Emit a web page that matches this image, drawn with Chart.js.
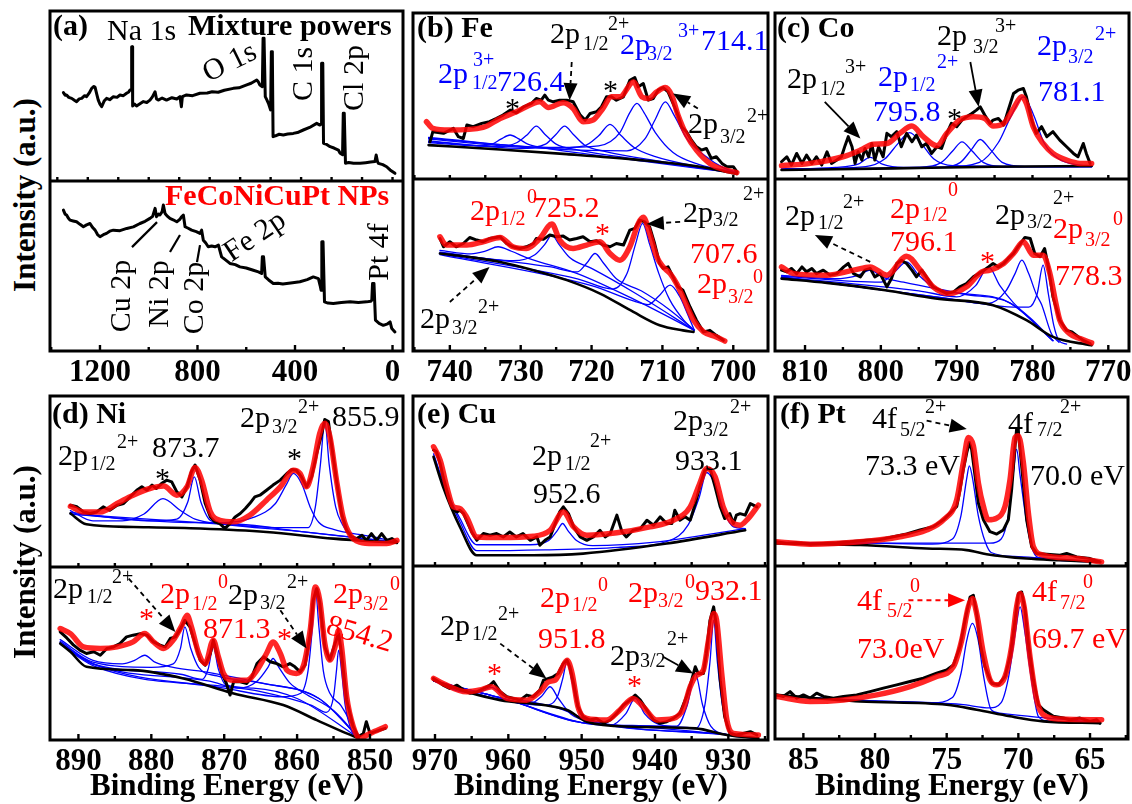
<!DOCTYPE html>
<html>
<head>
<meta charset="utf-8">
<script src="https://cdn.jsdelivr.net/npm/chart.js@4.4.1/dist/chart.umd.min.js"></script>
<style>
  body { margin: 0; width: 1132px; height: 804px; background: #fff; position: relative; overflow: hidden;
         font-family: "Liberation Serif", "Times New Roman", serif; }
  canvas { position: absolute; }
  .t { position: absolute; white-space: nowrap; line-height: 1; z-index: 5; }
</style>
</head>
<body>
<script>
const K = '#000', R = '#ff0000', B = '#0000ff';

/* ============================
   TICK LABELS
============================ */
const aTicks = [1200, 800, 400, 0];
const bTicks = [740, 730, 720, 710, 700];
const cTicks = [810, 800, 790, 780, 770];
const dTicks = [890, 880, 870, 860, 850];
const eTicks = [970, 960, 950, 940, 930];
const fTicks = [85, 80, 75, 70, 65];

/* ============================
   (a) SURVEY SPECTRA  [BE, intensity]
============================ */
const aTopRaw = [[1350,52],[1343,50.5],[1337,50.6],[1328,49.2],[1316,48.6],[1305,47.5],[1296,46.7],[1285,48.3],[1275,48.6],[1263,50.2],[1255,49.6],[1244,51.8],[1234,54.5],[1225,55.6],[1220,55.1],[1213,51],[1207,47.6],[1200,45.2],[1193,43.7],[1183,47],[1173,48.6],[1160,47.8],[1145,49.6],[1130,49.2],[1118,50.6],[1104,50.2],[1091,51.6],[1082,52.4],[1077,53.5],[1071,53.5],[1070,79],[1067,79],[1066,44.1],[1058,45.2],[1050,44.1],[1036,45.4],[1022,46.7],[1008,46.2],[995,47.6],[985,49.5],[974,52.5],[968,48.2],[961,47.6],[945,48.8],[927,47.6],[905,49],[885,48.2],[872,49.6],[866,43.7],[862,49.6],[845,50.6],[820,50.2],[790,51.6],[760,51.8],[740,52.5],[715,52.2],[690,53.4],[653,54.5],[630,54.8],[598,56.5],[580,57.5],[557,59.4],[550,58.2],[544,56.5],[534,55.5],[531,83.9],[527,83.9],[522,49.6],[515,47.6],[509,45.7],[500,41.8],[497,76.1],[493,76.1],[490,26.1],[480,26.6],[465,27.5],[448,27.1],[430,27.6],[407,28],[390,28.5],[366,30],[340,31.5],[311,33.9],[298,32.9],[292,33.5],[291,69.2],[286,69.2],[283,22.2],[270,21.5],[256,20.2],[240,19.4],[222,18.2],[215,16.3],[205,15.5],[202,39.8],[198,39.8],[193,10.4],[180,10.9],[160,10.4],[133,10.4],[110,10.8],[90,11.2],[72,11.4],[67,15.3],[62,11.6],[58,10.4],[40,9.6],[24,8.4],[10,6.5],[-10,4.5]];
const aBotRaw = [[1350,82.9],[1343,80.5],[1337,80],[1330,78.2],[1323,77],[1310,76.5],[1296,76],[1282,74.5],[1268,73.1],[1255,74.2],[1241,75],[1230,72.6],[1220,71.1],[1210,68.5],[1200,67.2],[1186,68.4],[1173,69.2],[1160,70.5],[1145,71.1],[1118,70.8],[1090,72.1],[1063,73],[1036,75],[1015,76.3],[995,78],[984,79.2],[974,83.9],[968,79],[960,80.5],[954,80],[945,82],[940,85.9],[933,80.9],[925,79.5],[913,78],[900,77.2],[885,76],[872,77.5],[865,79],[858,80],[851,73.1],[838,72.2],[824,71.1],[805,70.2],[790,69.2],[783,71.1],[776,65.2],[766,63.5],[756,61.3],[742,61.8],[728,61.3],[714,62.3],[707,58.5],[701,55.4],[685,53.6],[667,51.5],[645,50.8],[626,49.5],[600,48.8],[571,47.5],[550,46.5],[537,45.6],[534,55.4],[529,55.4],[522,43.6],[508,41.8],[489,39.7],[470,39.9],[450,39.4],[434,39.7],[410,40.2],[380,40.7],[350,42],[325,43.6],[304,42.6],[297,38.5],[293,35.8],[290,64.2],[285,64.2],[279,28.9],[265,28.2],[243,27.9],[210,28.5],[174,28.9],[140,28.6],[106,28.9],[90,29.2],[85,29.9],[82,39.7],[76,39.7],[70,18.1],[55,16.2],[38,15.1],[20,16],[10,17.1],[3,13.2],[-10,11.2]];

/* ============================
   (b) Fe 2p
============================ */
const bTopRaw = [[742.8,22.4],[742.4,28.5],[740.9,27.5],[739.5,30.5],[738.8,25.5],[738.1,24.4],[737.6,32.5],[736.7,31.5],[735.5,33.5],[734.4,34.5],[733.4,36.5],[732.5,38.5],[731.5,41.5],[730.6,39.9],[729.6,43.5],[728.5,45.5],[727.8,48.5],[727.1,47.5],[726.6,50.5],[726.1,47.5],[725.4,46.5],[724.5,47.5],[723.5,47.5],[722.6,46.5],[721.6,38.5],[720.9,35.5],[720.2,39.5],[719.3,40.5],[718.6,43.5],[717.9,49.5],[717.2,49.5],[716.5,47.5],[715.5,49.5],[714.6,59.5],[713.9,61.1],[713.4,55.5],[712.7,57.5],[712.0,47.5],[711.3,48.5],[710.6,53.5],[709.9,55.1],[709.2,52.5],[708.5,45.5],[707.8,38.5],[707.3,31.5],[706.6,28.5],[705.9,23.4],[705.2,19.4],[704.5,17.4],[703.8,18.4],[703.1,12.4],[702.4,13.4],[701.6,9.4],[700.9,7.4],[700,7.4],[699.5,4.4]];
const bTopFit = [[743.3,34.5],[742.4,30.5],[740,29.5],[735.3,31.1],[732.9,36.5],[730.6,40.5],[728.2,45.5],[727.3,46.5],[726.1,43.1],[724,45.9],[722.6,42.5],[721.2,34.5],[719.8,35.5],[718.4,42.5],[717.2,49.5],[716,49.5],[714.1,58.5],[712.9,49.5],[712,48.5],[710.8,52.5],[709.6,55.1],[708.7,50.5],[707.8,38.5],[706.6,26.5],[705.2,17.4],[703.3,9.4],[701.4,5.8],[699.5,3.8]];
const bTopBg = [[743,20.4],[732.9,17.8],[723.5,15],[714.1,11.8],[704.7,7.4],[699.5,3]];
const bTopC1 = [[743,22],[736,20],[734,21],[732.8,24],[731.5,26.5],[730.2,24],[729,21],[727,19],[715,12],[699.5,3.5]];
const bTopC2 = [[743,22.5],[733,19.5],[730.5,22],[729,27],[727.8,31.9],[726.6,27],[725,21],[722,17.5],[712,11],[699.5,3.5]];
const bTopC3 = [[743,23],[730,18.5],[726.5,21],[725,27],[723.8,31.9],[722.6,27],[721,20.5],[718,16.5],[710,10.5],[699.5,3.5]];
const bTopC4 = [[743,24],[726,18.5],[721,20],[719,26],[717.4,32.9],[715.8,26],[714,19],[711,13.5],[705,7.5],[699.5,3.5]];
const bTopC5 = [[743,24.5],[725,19],[719,20],[716,28],[714.6,40],[713.6,45.5],[712.6,40],[711,28],[708.5,16],[705,9],[699.5,4]];
const bTopC6 = [[743,25],[725,18],[715,17],[712.5,24],[711,36],[709.6,46.5],[708.3,38],[706.5,24],[704,14],[701.5,7],[699.5,4]];

const bBotRaw = [[741.4,65.4],[740.9,60.6],[740,63.5],[739.1,60.6],[738.1,62.5],[737.2,66],[736.2,64.5],[735.3,63.5],[734.4,65.4],[732.9,66.4],[732,62.5],[731.1,60.6],[730.1,59.6],[729.2,60.6],[728.2,62.5],[727.8,65.4],[726.8,64.9],[725.9,67.4],[724.9,66.4],[724,66.8],[723.1,64.5],[722.1,65.4],[721.2,66.4],[720.2,63.5],[719.3,64.1],[718.4,61.6],[717.4,60.6],[716.5,62.5],[715.5,61.6],[714.6,70.3],[713.9,71.3],[713.2,76.1],[712.5,75.1],[711.8,72.2],[711.1,62.5],[710.4,50.9],[709.9,48],[709.2,48.9],[708.5,43.1],[707.8,37.3],[707.1,35.3],[706.1,25.6],[705.2,17.9],[704.2,11.1],[703.3,12],[702.4,9.1],[701.4,6.2]];
const bBotFit = [[741.4,66.4],[740.5,61.6],[737.6,61.6],[735.3,63.5],[732.9,66],[731.1,60.6],[729.2,59.6],[727.3,65.4],[725.6,73.8],[724.5,64.5],[722.6,59.6],[720.7,61.6],[718.8,63.5],[717.4,56.7],[716,52.8],[714.6,60.6],[713.4,74.2],[712.7,77.7],[711.8,68.3],[710.8,54.8],[709.9,48.9],[708.9,45],[708,39.2],[707.1,31.5],[705.6,17.9],[704.2,11.1],[702.4,8.2],[701.2,5.8]];
const bBotBg = [[741.4,56.7],[737.6,54.8],[732.9,51.8],[728.2,47],[723.5,41.2],[718.8,33.4],[714.1,22.7],[710.4,15],[707.1,12],[705.6,11.1]];
const bBotC1 = [[741.4,58.5],[737,56.5],[735,58],[733.2,60.6],[731.3,58],[729,54],[722,45],[714,30],[705.5,12]];
const bBotC2 = [[741.4,57.5],[731,52.5],[728,56],[726.6,62],[725.6,67.4],[724.6,62],[723,54],[720,48],[714,34],[705.5,12]];
const bBotC3 = [[741.4,57],[726,49],[722,46],[720.7,51],[719.5,56.7],[718.3,51],[716.5,42],[713,35],[709,24],[705.5,12]];
const bBotC4 = [[741.4,56.5],[722,42],[717,36],[715,45],[713.8,62],[712.8,74.2],[711.8,62],[710.5,45],[709,30],[707,18],[705.5,12]];
const bBotC5 = [[741.4,56],[720,38],[714,29],[712,27],[710.5,32],[708.9,38.3],[707.6,32],[706.5,22],[705.5,12]];

/* ============================
   (c) Co 2p
============================ */
const cTopRaw = [[813.1,10.4],[812.4,13.4],[811.8,8.4],[811.1,15.4],[810.4,9.4],[809.8,14.4],[809.1,9.4],[808.5,13.4],[807.8,8.4],[807.1,16.4],[806.5,9.4],[805.8,11.4],[805.2,13.4],[804.7,20.4],[804.3,25.5],[803.8,19.4],[803.4,9.4],[803,16.4],[802.5,11.4],[802.1,18.4],[801.6,13.4],[801.2,21.4],[800.8,11.4],[800.3,19.4],[799.7,13.4],[799.2,27.5],[798.6,25.5],[797.9,28.5],[797.3,19.4],[796.6,27.5],[795.9,22.4],[795.3,26.5],[794.6,19.4],[794,21.4],[793.3,15.4],[792.6,19.4],[792,18.4],[791.3,27.5],[790.7,33.5],[790,31.5],[789.3,35.5],[788.7,37.5],[788,39.5],[787.4,41.5],[786.9,43.5],[786.3,38.5],[785.6,33.5],[785.2,35.5],[784.5,36.5],[783.8,32.5],[783.2,41.5],[782.5,51.5],[781.9,53.5],[781.2,54.5],[780.8,49.5],[780.1,35.5],[779.5,27.5],[778.8,31.5],[778.1,25.5],[777.3,28.5],[776.4,23.4],[775.5,19.4],[774.6,15.4],[774,13.4],[773.3,21.4],[772.9,15.4],[772.4,9.4]];
const cTopFit = [[813.1,8],[809.3,9.4],[805,13.4],[802.7,17.4],[801,21],[799.2,21.4],[797.5,27.5],[795.9,31.9],[794.4,25.5],[792.6,20],[791.3,27.5],[789.6,35.5],[787.8,37.5],[786.3,36.5],[785.2,31.9],[783.8,33.5],[782.5,42.5],[781.4,49.5],[780.8,45.5],[779.9,31.5],[778.6,21.4],[777.3,15.4],[775.5,11.4],[773.7,9.4],[772.2,9.4]];
const cTopBg = [[813.1,5.4],[798.4,6.4],[785.2,7.4],[772.2,7.8]];
const cTopC1 = [[813.1,6],[806,7],[803,9],[801.4,13],[799.8,9],[797,7],[772.2,7.5]];
const cTopC2 = [[813.1,6],[802,7.5],[799.5,12],[797.8,21],[796.2,27.9],[794.6,21],[793,12],[790.5,8],[772.2,7.5]];
const cTopC3 = [[813.1,6],[795,7],[792,10],[790.5,17],[789.3,22.4],[788,17],[786.5,10],[784,7.5],[772.2,7.5]];
const cTopC4 = [[813.1,6],[792,7],[789.5,10],[788,18],[786.9,23.8],[785.6,18],[784,10],[781,7.5],[772.2,7.5]];
const cTopC5 = [[813.1,6],[792,7],[787,10],[784.5,22],[782.8,38],[781.2,49.5],[779.8,38],[778.5,22],[776.5,12],[774,8.5],[772.2,7.5]];

const cBotRaw = [[813.1,47],[812.4,46],[811.8,48],[811.1,45],[810.4,48.9],[809.8,46],[809.1,48],[808.5,45],[807.6,47],[806.7,44.1],[805.8,45],[804.9,48.9],[804.3,50.9],[803.6,45],[802.7,43.1],[802.1,47],[801.4,48],[800.8,43.1],[800.1,45],[799.2,37.3],[798.6,42.1],[797.9,50.9],[797.3,52.8],[796.6,50.9],[795.9,47],[795.3,43.1],[794.6,47],[794,43.1],[793.1,37.3],[792.2,35.3],[791.3,33.4],[790.4,34.4],[789.6,37.3],[788.7,39.2],[787.8,43.1],[787.1,45],[786.4,47],[785.8,48.9],[785.2,50.9],[784.5,48.9],[783.8,50.9],[783.2,53.8],[782.5,56.7],[781.9,60.6],[781,66],[780.3,65.4],[779.7,56.7],[779,54.8],[778.4,59.6],[777.9,48.9],[777.3,31.5],[776.4,17.9],[775.5,12],[774.8,11.1],[774.2,9.1],[773.3,6.2],[772.4,4.3]];
const cBotFit = [[813.1,48.9],[811.5,45],[807.1,44.1],[803.6,47],[801.4,48.9],[799.2,44.1],[796.6,55.1],[794.8,47],[793.1,37.3],[790.9,33.4],[788.7,37.3],[786.7,46],[785.6,47],[783.8,50.9],[782.5,56.7],[781.2,63.5],[779.9,55.7],[778.6,55.7],[777.7,45],[777,29.5],[776.4,17.9],[775.1,10.1],[773.7,7.2],[772.2,4.7]];
const cBotBg = [[813.1,42.1],[807.1,39.6],[799.4,35.3],[792.8,30.5],[785.2,26.6],[780.8,17.9],[777.3,8.2],[772.2,3.3]];
const cBotC1 = [[813.1,44],[806,42],[803,44],[801.4,47],[799.8,43],[797,40],[790,34],[783,28],[777.3,6]];
const cBotC2 = [[813.1,43.5],[800,40],[798.2,46],[796.6,51.8],[795,44],[793,37],[789,33],[783,28],[777.3,6]];
const cBotC3 = [[813.1,43],[795,35],[790,31.5],[787.5,38],[785.8,48.9],[784.3,38],[782.5,28],[780,18],[777.3,6]];
const cBotC4 = [[813.1,43],[792,31],[786,27.5],[783.5,35],[782.3,45],[781.4,52.8],[780.5,45],[779.5,33],[778.8,27],[777.5,10],[776.5,5]];
const cBotC5 = [[813.1,43],[792,31],[784,26],[780.5,25.5],[779.4,33],[778.6,49.9],[777.9,33],[777.2,15],[776.5,6],[775.5,4]];

/* ============================
   (d) Ni 2p
============================ */
const dTopRaw = [[891.1,36.1],[890.2,35.2],[889.3,32.2],[888.4,31.3],[887.5,32.2],[886.6,35.2],[885.7,33.2],[884.7,36.1],[883.8,37.1],[882.9,41],[882,44.9],[881.3,46.9],[880.6,44.9],[879.9,47.9],[879.3,45.9],[878.6,48.8],[877.9,50.8],[877.2,49.8],[876.5,43.9],[875.8,41],[875.1,46.9],[874.5,55.7],[874,59.6],[873.3,50.8],[872.6,37.1],[871.9,29.3],[871.3,26.4],[870.6,25.4],[869.9,22.5],[869.2,25.4],[868.5,29.3],[867.8,31.3],[867.1,34.2],[866.5,37.1],[865.8,41],[865.1,42],[864.2,44.9],[863.3,47.9],[862.3,50.8],[861.4,54.7],[860.7,57],[860.1,56.6],[859.4,52.7],[858.7,46.9],[858,52.7],[857.3,66.4],[856.6,78.1],[856.2,86.3],[855.7,85],[855.3,72.3],[854.6,50.8],[853.9,31.3],[853.2,21.5],[852.5,17.6],[851.8,16.6],[851.1,18.6],[850.5,15.6],[849.8,19.5],[849.1,15.6],[848.4,19.5],[847.7,15.6],[847,16.6],[846.3,14.6]];
const dTopFit = [[891.1,35.5],[889.3,32.2],[887,32.2],[884.7,37.1],[882.5,42],[880.2,45.9],[878.3,47.3],[876.5,42],[875.1,46.9],[874,58.2],[873.1,50.8],[871.9,32.2],[870.6,27.3],[868.7,26.4],[866.5,30.3],[864.2,39.1],[862.3,46.9],[860.5,56.6],[859.6,54.7],[858.7,46.9],[857.8,58.6],[856.9,78.1],[856.2,84],[855.5,76.2],[854.6,50.8],[853.7,29.3],[852.7,18.6],[851.4,14.6],[849.5,13.7],[847.7,13.7],[846.3,15.6]];
const dTopBg = [[891.1,31.3],[888.9,25],[882.5,23.4],[873.3,22.5],[864.2,20.5],[855,16.6],[846.3,14.1]];
const dTopC1 = [[891.1,33],[888,27],[884,27],[881,31],[878.4,40],[876,33],[874,28],[870,25],[860,21],[846.3,14.5]];
const dTopC2 = [[891.1,32],[880,27],[876.5,28],[875,38],[874.1,52.7],[873.2,38],[871.8,27],[868,25],[860,21],[846.3,14.5]];
const dTopC3 = [[891.1,31],[875,26],[870,26],[866,29],[863,37],[861.5,48],[860.5,54.7],[859.3,48],[858.2,35],[857,26],[855,22],[850,18],[846.3,14.5]];
const dTopC4 = [[891.1,31],[870,25],[862,23],[858.5,23],[857.5,35],[856.8,60],[856.2,85],[855.6,60],[854.7,35],[853.8,25],[852.5,18],[850,15],[846.3,14.5]];

const dBotRaw = [[892.5,62.5],[891.6,59],[890.7,55],[889.8,51.9],[888.9,50],[887.9,51],[887,49],[886.1,52.9],[885.2,53.8],[884.3,55.8],[883.4,59.6],[882.5,60.6],[881.5,61.5],[880.6,60.6],[879.7,56.7],[878.8,54.8],[878.1,53.8],[877.4,58.7],[876.7,59.6],[876.1,63.5],[875.4,69.2],[874.7,65.4],[874,55.8],[873.3,46.2],[872.6,43.3],[871.9,50],[871.5,57.7],[871,50],[870.3,38.5],[869.7,32.7],[869.2,26],[868.7,33.7],[867.8,33.7],[866.9,32.7],[866.2,36.5],[865.5,44.2],[864.6,48.1],[863.7,45.2],[862.8,44.2],[861.9,42.3],[861,44.2],[860.3,42.3],[859.6,39.4],[858.9,43.3],[858.2,61.5],[857.8,80.8],[857.3,87.5],[856.9,79.8],[856.2,53.8],[855.5,46.2],[854.8,55.8],[854.3,61.5],[853.9,50],[853.2,23.1],[852.3,7.7],[851.6,1.9],[850.9,3.8],[850.5,10.6],[850,3.8],[849.3,4.8],[848.6,5.8],[847.9,6.7]];
const dBotFit = [[892.5,64.4],[891.1,61.5],[889.3,53.8],[887,52.9],[884.7,53.8],[882.5,56.7],[880.9,61.5],[879.7,56.7],[878.3,52.9],[877,57.7],[875.8,66.3],[875.1,72.1],[874.5,65.4],[873.5,50],[872.6,44.2],[871.5,57.7],[870.8,48.1],[870.1,38.5],[868.7,34.6],[866.9,34.6],[865.5,40.4],[864.2,50],[863.3,56.7],[862.3,50],[861.4,40.4],[860.1,38.5],[859.1,43.3],[858.2,63.5],[857.5,88.5],[856.9,80.8],[856.2,55.8],[855.5,46.2],[854.8,53.8],[854.3,63.5],[853.9,53.8],[853.2,25],[852.3,7.7],[851.4,1],[850,3.8],[847.9,7.7]];
const dBotBg = [[892.5,55.8],[891.1,51],[888.9,42.3],[882.5,40.4],[875.6,35.6],[868.7,26.9],[861.9,20.2],[857.3,11.5],[853.2,3.8],[851.6,1]];
const dBotC1 = [[892.5,58],[888,46],[884,44],[882.3,46],[880.9,49],[879.5,45],[877,42],[872,39],[865,33],[857,24],[851.5,1]];
const dBotC2 = [[892.5,57],[888,45],[880,42],[877,44],[876,53],[875.4,65.4],[874.6,53],[873.5,42],[871,37],[865,33],[857,24],[851.5,1]];
const dBotC3 = [[892.5,56],[888,44],[876,38],[873,35],[872.2,41],[871.5,53.8],[870.8,41],[869.8,32],[866,30],[860,24],[851.5,1]];
const dBotC4 = [[892.5,56],[888,44],[872,34],[868,30],[865.5,34],[864,42],[863.3,47.1],[862.5,42],[861,33],[859,27],[855,17],[851.5,1]];
const dBotC5 = [[892.5,56],[888,44],[870,30],[862,25],[859.5,27],[858.5,40],[857.9,65],[857.5,87.5],[857,65],[856.4,40],[855.5,27],[854,20],[851.5,1]];
const dBotC6 = [[892.5,55.5],[888,43],[865,28],[858,20],[856,16],[855,25],[854.6,40],[854.3,51.9],[853.9,40],[853.4,20],[852.5,5],[851.5,0]];

/* ============================
   (e) Cu 2p
============================ */
const eTopRaw = [[970.2,68.2],[969.8,67.2],[969.3,60.3],[968.9,52.5],[968.4,44.6],[968,38.7],[967.5,32.8],[967,31.8],[966.6,32.8],[966.1,30.8],[965.7,26.9],[965,20],[964.3,15.1],[963.4,19.1],[962.5,18.1],[961.6,19.1],[960.7,17.1],[959.8,20],[958.9,17.1],[958,19.1],[957,15.1],[956.1,17.1],[955.7,12.2],[955,15.1],[954.3,17.1],[953.6,25],[953,31.8],[952.5,34.8],[951.8,30.8],[951.1,23],[950.2,17.1],[949.3,15.1],[948.4,17.1],[947.5,21],[946.8,17.1],[946.1,19.1],[945.2,29.9],[944.5,20],[943.9,17.1],[943,21],[942,22],[941.1,26.9],[940.2,24],[939.3,28.9],[938.4,25],[937.7,25],[937.3,32.8],[936.6,26.9],[935.9,28.9],[935.2,26.9],[934.5,36.7],[933.9,46.6],[933.2,56.4],[932.5,57.4],[931.8,46.6],[931.1,34.8],[930.5,27.9],[929.8,30.8],[929.3,25],[928.9,29.9],[928.4,30.8],[927.7,29.9],[927,36.7],[926.1,34.8]];
const eTopFit = [[970.2,70.1],[969.3,62.3],[968.4,46.6],[967.5,34.8],[966.6,33.8],[965.7,28.9],[964.3,17.1],[961.1,16.7],[956.6,17.5],[954.3,21],[952.5,31.8],[951.1,23],[949.3,18.1],[945.2,19.5],[940.7,23],[937.5,26.9],[935.2,34.8],[933.9,48.5],[932.95,57.4],[931.8,52.5],[930.7,34.8],[929.3,25],[928.4,24],[927.3,27.9],[925.9,35.8]];
const eTopBg = [[970.2,64.2],[968.9,46.6],[966.6,23],[964.3,6.3],[956.6,6.3],[949.8,7.3],[938.4,13.2],[927.7,21]];
const eTopC1 = [[970.2,66],[968.5,45],[966.6,28],[964.3,12.5],[957,12.5],[954.5,15],[953.3,21],[952.6,25],[951.9,21],[950.7,15],[948.5,12],[940,14],[927.7,22]];
const eTopC2 = [[970.2,64],[968.5,44],[966.6,26],[964.3,9],[955,9.5],[945,11],[938,15],[935.5,24],[934,40],[932.95,55],[931.8,48],[930.6,32],[929.3,23],[927.7,22]];

const eBotRaw = [[970.2,35.4],[969.5,33.5],[968.9,31.5],[968,29.6],[967,31.5],[966.1,28.7],[965.2,26.8],[964.3,27.7],[963.4,29.6],[962.5,31.5],[962,33.5],[961.1,27.7],[960.2,24.9],[959.3,23.9],[958.4,22.9],[957.5,25.8],[956.6,24.9],[955.7,28.7],[955.2,34.4],[954.5,35.4],[953.9,36.3],[953.2,38.2],[952.5,44],[952,45.9],[951.6,42.1],[951.1,32.5],[950.5,19.1],[949.8,13.4],[948.9,11.5],[948,12.4],[947,9.6],[946.1,11.5],[945.2,15.3],[944.3,20.1],[943.4,22.9],[942.7,25.8],[942,22.9],[941.1,17.2],[940.2,11.5],[939.3,9.6],[938.4,10.5],[937.5,12.4],[936.6,15.3],[935.7,24.9],[935,34.4],[934.5,42.1],[934.1,38.2],[933.4,38.2],[933,49.7],[932.5,68.8],[932,76.5],[931.6,65],[931.1,34.4],[930.5,13.4],[929.8,3.8],[928.9,2.9],[928,3.8],[927,4.8],[926.1,2.9]];
const eBotFit = [[970.2,35.4],[968.9,32.5],[965.7,27.7],[963.9,28.7],[962.3,30.6],[960.2,23.9],[957.5,22.9],[955.7,27.7],[954.5,33.5],[953.6,34.4],[952.7,41.1],[952,45.9],[951.3,38.2],[950.5,19.1],[949.3,12.4],[946.6,11.5],[944.8,17.2],[943,23.9],[941.6,19.1],[939.8,11.5],[937.5,12.4],[936.1,18.2],[935.2,30.6],[934.3,37.3],[933.4,40.2],[932.7,57.4],[932,72.7],[931.6,68.8],[930.9,38.2],[930.2,11.5],[929.3,3.8],[925.9,2.9]];
const eBotBg = [[970.2,34.4],[965.7,27.7],[961.1,22.9],[955.2,20.1],[952,17.2],[949.3,10.5],[943,7.6],[934.5,6.7],[930.2,2.9],[925.9,1]];
const eBotC1 = [[970.2,34],[966,27.5],[964,27.5],[962.3,30.2],[960.5,25],[957,22],[953,18],[948,10],[930,3],[925.9,1]];
const eBotC2 = [[970.2,34],[962,24],[957,21],[955.5,25],[954.3,30.6],[953.2,24],[951.5,15],[948,10],[930,3],[925.9,1]];
const eBotC3 = [[970.2,34],[962,24],[955,20],[953.3,25],[952.6,35],[952,44.9],[951.4,35],[950.5,18],[949,12],[940,7],[930,3],[925.9,1]];
const eBotC4 = [[970.2,34],[960,23],[950,10],[946,8.5],[944,15],[942.7,23.9],[941.4,15],[939.5,9],[935,7],[930,3],[925.9,1]];
const eBotC5 = [[970.2,34],[960,23],[950,10],[940,8],[937,8],[935.6,20],[934.5,38.2],[933.5,20],[932.4,8],[930,3],[925.9,1]];
const eBotC6 = [[970.2,34],[960,23],[950,10],[940,8],[934.5,6.5],[933.2,20],[932.5,45],[932,68.8],[931.5,45],[930.8,20],[929.8,5],[925.9,1]];

/* ============================
   (f) Pt 4f
============================ */
const fTopRaw = [[86.86,14.3],[86.16,13.3],[85.47,13.7],[84.53,12.9],[83.6,13.3],[82.67,13.7],[81.74,14.3],[80.58,15.3],[79.65,15.7],[78.72,17.3],[77.79,18.9],[76.86,21.3],[75.93,23.3],[75.23,27.3],[74.77,31.3],[74.3,35.3],[74.07,45.2],[73.84,57.2],[73.6,67.1],[73.42,73.1],[73.26,69.1],[73.02,53.2],[72.79,37.3],[72.44,27.3],[71.98,20.3],[71.51,18.9],[71.05,21.3],[70.7,27.3],[70.47,45.2],[70.23,71.1],[70.12,81.1],[70,79.1],[69.77,59.2],[69.42,27.3],[69.07,11.4],[68.72,7.4],[68.02,7],[67.09,6.4],[66.63,7.4],[65.93,5.4],[65,4.4],[64.3,2.4]];
const fTopFit = [[86.86,14.3],[84.53,12.9],[81.05,14.3],[78.26,17.3],[76.4,21.3],[75.23,27.3],[74.3,39.2],[73.84,61.2],[73.49,76.1],[73.14,71.1],[72.79,49.2],[72.44,35.3],[72.09,27.3],[71.51,28.3],[70.93,35.3],[70.58,51.2],[70.23,76.1],[70,77.1],[69.65,61.2],[69.3,31.3],[68.95,11.4],[68.26,6.4],[65.93,4.4],[64.19,2.4]];
const fTopBg = [[86.86,13.3],[81.05,12.4],[76.4,10.4],[73.6,9.4],[72.21,7],[69.42,4.4],[67.09,3.4],[64.3,2.4]];
const fTopC1 = [[86.86,14],[80,13.5],[76,13],[74.6,16],[74,30],[73.6,52],[73.42,59.2],[73.2,52],[72.8,30],[72.3,14],[71.9,8],[70,5.5],[64.3,2.5]];
const fTopC2 = [[86.86,14],[80,13.5],[74,13.5],[72,13.5],[71.2,16],[70.7,30],[70.35,55],[70.12,69.1],[69.9,55],[69.5,30],[69.1,12],[68.6,5],[64.3,2.5]];

const fBotRaw = [[86.86,25.5],[86.4,24.6],[85.93,27.4],[85.47,23.6],[85,25.5],[84.53,23.6],[84.07,26.5],[83.6,24.6],[82.91,23.6],[82.21,24.6],[81.28,25.5],[80.35,27.4],[79.42,29.4],[78.49,31.3],[77.56,33.2],[76.63,35.1],[75.7,38],[75,39.9],[74.53,42.8],[74.07,53.4],[73.72,68.7],[73.37,82.1],[73.14,83.1],[72.91,72.6],[72.67,55.3],[72.33,41.8],[71.86,32.2],[71.4,31.3],[70.93,36.1],[70.58,47.6],[70.23,68.7],[70,84.1],[69.77,85],[69.53,74.5],[69.3,55.3],[68.95,34.2],[68.6,19.8],[68.26,16.9],[67.56,13.1],[66.86,12.1],[66.4,11.1],[65.7,12.1],[65,10.2],[64.53,11.1],[64.3,9.2]];
const fBotFit = [[86.86,24.6],[84.53,21.7],[82.21,22.6],[79.88,25.5],[77.56,30.3],[75.7,36.1],[74.53,41.8],[73.95,57.2],[73.49,76.4],[73.21,81.2],[72.91,72.6],[72.44,49.5],[71.98,34.2],[71.51,31.3],[70.93,36.1],[70.47,53.4],[70.12,76.4],[69.88,84.1],[69.6,76.4],[69.19,47.6],[68.72,22.6],[68.26,14],[67.09,11.5],[64.19,11.1]];
const fBotBg = [[86.86,25.5],[81.05,21.7],[75,19.8],[72.91,16.9],[70.58,13.1],[68.26,10.2],[64.3,9.2]];
const fBotC1 = [[86.86,25],[80,22],[76,21],[74.6,24],[74,38],[73.6,57],[73.21,66.8],[72.8,57],[72.4,35],[71.9,17],[71.3,15],[64.3,9.5]];
const fBotC2 = [[86.86,25],[80,22],[74,20],[72,18],[71.2,21],[70.7,35],[70.2,62],[69.88,76.4],[69.55,62],[69.1,35],[68.6,13],[68,10.5],[64.3,9.5]];

/* ============================
   PANEL LAYOUT
============================ */
const panels = [
  { L: 50, R: 403, T: 11, M: 181, B: 351, xmin: -43, xmax: 1405, ticks: aTicks, step: 200, topStep: 125,
    top: { raw: aTopRaw }, bot: { raw: aBotRaw },
    arrows: { bot: [
      { from: [966, 75.8], to: [1068.7, 61.1] },
      { from: [871.8, 68.2], to: [912.8, 58.2] },
      { from: [789.7, 62.3], to: [802, 52.3] } ] } },
  { L: 413, R: 768, T: 13, M: 179, B: 351, xmin: 695.1, xmax: 745.2, ticks: bTicks, step: 5,
    top: { raw: bTopRaw, fit: bTopFit, bg: bTopBg, comps: [bTopC1, bTopC2, bTopC3, bTopC4, bTopC5, bTopC6] },
    bot: { raw: bBotRaw, fit: bBotFit, bg: bBotBg, comps: [bBotC1, bBotC2, bBotC3, bBotC4, bBotC5] },
    arrows: {
      top: [ { from: [722.8, 70.5], to: [723.1, 47.5], dash: true, head: true },
             { from: [705, 42.5], to: [708.5, 51.5], dash: true, head: true } ],
      bot: [ { from: [707.5, 75.1], to: [712.2, 73.8], dash: true, head: true },
             { from: [740, 28.5], to: [734.4, 48.9], dash: true, head: true } ] } },
  { L: 775, R: 1129, T: 13, M: 179, B: 351, xmin: 767.27, xmax: 813.96, ticks: cTicks, step: 5,
    top: { raw: cTopRaw, fit: cTopFit, bg: cTopBg, comps: [cTopC1, cTopC2, cTopC3, cTopC4, cTopC5] },
    bot: { raw: cBotRaw, fit: cBotFit, bg: cBotBg, comps: [cBotC1, cBotC2, cBotC3, cBotC4, cBotC5] },
    arrows: {
      top: [ { from: [807.4, 46.5], to: [802.7, 24.4], head: true },
             { from: [788.2, 70.5], to: [787.1, 43.5], head: true } ],
      bot: [ { from: [801.4, 51.8], to: [808.7, 67.4], dash: true, head: true } ] } },
  { L: 50, R: 403, T: 396, M: 567, B: 740, xmin: 845.47, xmax: 893.9, ticks: dTicks, step: 5,
    top: { raw: dTopRaw, fit: dTopFit, bg: dTopBg, comps: [dTopC1, dTopC2, dTopC3, dTopC4] },
    bot: { raw: dBotRaw, fit: dBotFit, bg: dBotBg, comps: [dBotC1, dBotC2, dBotC3, dBotC4, dBotC5, dBotC6] },
    arrows: { bot: [ { from: [883.1, 93.3], to: [876.7, 62.5], dash: true, head: true },
                     { from: [862.3, 75], to: [858.7, 52.9], dash: true, head: true } ] } },
  { L: 413, R: 768, T: 396, M: 566, B: 740, xmin: 924.59, xmax: 973, ticks: eTicks, step: 5,
    top: { raw: eTopRaw, fit: eTopFit, bg: eTopBg, comps: [eTopC1, eTopC2] },
    bot: { raw: eBotRaw, fit: eBotFit, bg: eBotBg, comps: [eBotC1, eBotC2, eBotC3, eBotC4, eBotC5, eBotC6] },
    arrows: { bot: [ { from: [961.1, 55.4], to: [954.8, 35.4], dash: true, head: true },
                     { from: [938.9, 47.8], to: [934.8, 38.2], head: true } ] } },
  { L: 775, R: 1128, T: 397, M: 566, B: 739, xmin: 62.35, xmax: 86.98, ticks: fTicks, step: 2.5,
    top: { raw: fTopRaw, fit: fTopFit, bg: fTopBg, comps: [fTopC1, fTopC2] },
    bot: { raw: fBotRaw, fit: fBotFit, bg: fBotBg, comps: [fBotC1, fBotC2] },
    arrows: {
      top: [ { from: [76.4, 86], to: [73.6, 81], dash: true, head: true } ],
      bot: [ { from: [77.67, 80.2], to: [73.72, 80.2], dash: true, head: true, color: R } ] } }
];

function line(pairs, color, width, smooth) {
  return {
    data: pairs.map(p => ({ x: p[0], y: p[1] })),
    borderColor: color, borderWidth: width, pointRadius: 0, fill: false,
    tension: smooth ? 0.4 : 0, cubicInterpolationMode: smooth ? 'monotone' : 'default',
    borderJoinStyle: 'round', borderCapStyle: 'round'
  };
}

function drawArrow(ctx, xs, ys, a) {
  const x0 = xs.getPixelForValue(a.from[0]), y0 = ys.getPixelForValue(a.from[1]);
  const x1 = xs.getPixelForValue(a.to[0]), y1 = ys.getPixelForValue(a.to[1]);
  const ang = Math.atan2(y1 - y0, x1 - x0);
  const hl = a.head ? 17 : 0, hw = 7;
  const xe = x1 - hl * Math.cos(ang), ye = y1 - hl * Math.sin(ang);
  ctx.strokeStyle = ctx.fillStyle = a.color || K;
  ctx.lineWidth = a.head ? 1.8 : 2.2;
  ctx.setLineDash(a.dash ? [5, 4] : []);
  ctx.beginPath(); ctx.moveTo(x0, y0); ctx.lineTo(xe, ye); ctx.stroke();
  ctx.setLineDash([]);
  if (a.head) {
    ctx.beginPath();
    ctx.moveTo(x1, y1);
    ctx.lineTo(xe + hw * Math.sin(ang), ye - hw * Math.cos(ang));
    ctx.lineTo(xe - hw * Math.sin(ang), ye + hw * Math.cos(ang));
    ctx.closePath(); ctx.fill();
  }
}

function deco(p, part) {
  return {
    id: 'deco',
    afterDraw(chart) {
      const { ctx, chartArea: ca, scales: { x, y } } = chart;
      ctx.save();
      // inward ticks on the bottom edge
      ctx.strokeStyle = K; ctx.lineWidth = 2.4;
      const step = part === 'top' && p.topStep ? p.topStep : p.step;
      const lo = Math.min(p.xmin, p.xmax), hi = Math.max(p.xmin, p.xmax);
      for (let v = Math.ceil(lo / step) * step; v <= hi; v += step) {
        const px = x.getPixelForValue(v);
        const major = part === 'bot' && p.ticks.some(t => Math.abs(t - v) < 1e-6);
        ctx.beginPath(); ctx.moveTo(px, ca.bottom); ctx.lineTo(px, ca.bottom - (major ? 6 : 4)); ctx.stroke();
      }
      (p.arrows[part] || []).forEach(a => drawArrow(ctx, x, y, a));
      // frame
      ctx.lineWidth = 3; ctx.strokeStyle = K;
      ctx.strokeRect(ca.left, ca.top, ca.right - ca.left, ca.bottom - ca.top);
      ctx.restore();
    }
  };
}

function makeChart(p, part) {
  const isTop = part === 'top';
  const sub = p[part];
  const cv = document.createElement('canvas');
  const w = p.R - p.L + 4;
  const h = isTop ? p.M - p.T + 2 : p.B - p.M + 44;
  cv.width = w; cv.height = h;
  cv.style.left = (p.L - 2) + 'px';
  cv.style.top = (isTop ? p.T - 2 : p.M) + 'px';
  document.body.appendChild(cv);

  const ds = [];
  if (sub.fit) ds.push(line(sub.fit, 'rgba(255,0,0,0.85)', 5.5, true));
  ds.push(line(sub.raw, K, 3, false));
  if (sub.bg) ds.push(line(sub.bg, K, 2.6, true));
  (sub.comps || []).forEach(c => ds.push(line(c, B, 1.3, true)));

  new Chart(cv, {
    type: 'line',
    data: { datasets: ds },
    options: {
      responsive: false, maintainAspectRatio: false, animation: false,
      layout: { padding: { left: 2, right: 2, top: isTop ? 2 : 0, bottom: 0 } },
      plugins: { legend: { display: false }, tooltip: { enabled: false } },
      scales: {
        x: {
          type: 'linear', reverse: true, min: p.xmin, max: p.xmax, display: !isTop,
          grid: { display: false, drawTicks: false }, border: { display: false },
          afterBuildTicks: s => { s.ticks = p.ticks.map(v => ({ value: v })); },
          afterFit: s => { s.height = isTop ? 0 : 44; s.paddingLeft = 0; s.paddingRight = 0; },
          ticks: { padding: 3, color: K, autoSkip: false, maxRotation: 0,
                   font: { family: 'Liberation Serif', size: 31, weight: 'bold' },
                   callback: v => String(v) }
        },
        y: { display: false, min: 0, max: 100 }
      }
    },
    plugins: [deco(p, part)]
  });
}

panels.forEach(p => { makeChart(p, 'top'); makeChart(p, 'bot'); });

/* ============================
   TEXT  [text, left, baseline, size, color, bold]  /  [text, cx, cy, size, color, bold, angle]
============================ */
const notes = [
  ['(a)',53,35,30,K,1], ['Na 1s',107,40,30,K,0], ['Mixture powers',188,35,30,K,1], ['FeCoNiCuPt NPs',165,205,30,R,1],
  ['(b) Fe',417,37,30,K,1], ['(c) Co',777,37,30,K,1], ['(d) Ni',52,423,30,K,1], ['(e) Cu',417,423,30,K,1], ['(f) Pt',780,423,30,K,1],
  // b top
  ['2p',550,43,30,K], ['1/2',583,50,20,K], ['2+',608,30,20,K],
  ['2p',620,54,30,B], ['3/2',647,60,20,B], ['3+',678,37,20,B], ['714.1',701,50,30,B],
  ['2p',438,83,30,B], ['1/2',472,89,20,B], ['3+',473,66,20,B], ['726.4',497,91,30,B],
  ['2p',688,133,30,K], ['3/2',720,143,20,K], ['2+',747,122,20,K],
  ['*',505,118,30,K], ['*',603,100,30,K],
  // b bottom
  ['2p',470,220,30,R], ['1/2',500,225,20,R], ['0',527,203,20,R], ['725.2',532,217,30,R], ['*',595,243,30,R],
  ['2p',683,222,30,K], ['3/2',713,226,20,K], ['2+',743,200,20,K],
  ['707.6',690,263,30,R], ['2p',697,293,30,R], ['3/2',728,303,20,R], ['0',753,283,20,R],
  ['2p',420,328,30,K], ['3/2',452,334,20,K], ['2+',478,313,20,K],
  // c top
  ['2p',937,45,30,K], ['3/2',973,53,20,K], ['3+',995,32,20,K],
  ['2p',1037,55,30,B], ['3/2',1068,63,20,B], ['2+',1095,40,20,B], ['781.1',1038,101,30,B],
  ['2p',787,88,30,K], ['1/2',820,95,20,K], ['3+',845,73,20,K],
  ['2p',878,86,30,B], ['1/2',910,91,20,B], ['2+',937,68,20,B], ['795.8',873,121,30,B], ['*',947,128,30,K],
  // c bottom
  ['2p',785,225,30,K], ['1/2',818,229,20,K], ['2+',843,208,20,K],
  ['2p',890,218,30,R], ['1/2',922,221,20,R], ['0',948,196,20,R], ['796.1',890,251,30,R],
  ['2p',995,224,30,K], ['3/2',1027,228,20,K], ['2+',1053,204,20,K],
  ['2p',1053,238,30,R], ['3/2',1085,246,20,R], ['0',1113,225,20,R], ['778.3',1055,285,30,R], ['*',980,271,30,R],
  // d top
  ['2p',58,465,30,K], ['1/2',90,470,20,K], ['2+',117,448,20,K], ['873.7',152,457,30,K],
  ['2p',240,427,30,K], ['3/2',272,433,20,K], ['2+',298,413,20,K], ['855.9',332,426,30,K],
  ['*',155,488,30,K], ['*',287,468,30,K],
  // d bottom
  ['2p',53,598,30,K], ['1/2',87,603,20,K], ['2+',112,583,20,K],
  ['2p',160,603,30,R], ['1/2',192,610,20,R], ['0',218,588,20,R],
  ['2p',228,604,30,K], ['3/2',260,609,20,K], ['2+',287,588,20,K],
  ['871.3',203,638,30,R], ['*',277,648,30,R], ['*',139,628,30,R],
  ['2p',333,603,30,R], ['3/2',363,610,20,R], ['0',390,590,20,R],
  // e top
  ['2p',532,465,30,K], ['1/2',565,470,20,K], ['2+',590,447,20,K], ['952.6',533,503,30,K],
  ['2p',673,430,30,K], ['3/2',703,436,20,K], ['2+',730,413,20,K], ['933.1',675,470,30,K],
  // e bottom
  ['2p',440,635,30,K], ['1/2',472,640,20,K], ['2+',498,620,20,K],
  ['2p',540,607,30,R], ['1/2',572,611,20,R], ['0',598,591,20,R], ['951.8',538,648,30,R],
  ['2p',628,602,30,R], ['3/2',658,607,20,R], ['0',685,588,20,R], ['932.1',695,600,30,R],
  ['2p',610,665,30,K], ['3/2',640,667,20,K], ['2+',667,645,20,K],
  ['*',487,683,30,R], ['*',627,695,30,R],
  // f top
  ['4f',872,428,30,K], ['5/2',900,436,20,K], ['2+',925,413,20,K], ['73.3 eV',865,475,30,K],
  ['4f',1008,433,30,K], ['7/2',1037,436,20,K], ['2+',1060,413,20,K], ['70.0 eV',1030,485,30,K],
  // f bottom
  ['4f',857,610,30,R], ['5/2',887,617,20,R], ['0',910,592,20,R], ['73.0eV',857,658,30,R],
  ['4f',1032,601,30,R], ['7/2',1060,609,20,R], ['0',1083,588,20,R], ['69.7 eV',1032,648,30,R],
  // rotated labels
  ['O 1s',229,61,30,K,0,-26], ['C 1s',302,74,30,K,0,-90], ['Cl 2p',353,78,30,K,0,-90],
  ['Cu 2p',120,296,30,K,0,-90], ['Ni 2p',158,294,30,K,0,-90], ['Co 2p',193,298,30,K,0,-90],
  ['Fe 2p',254,235,30,K,0,-34], ['Pt 4f',378,252,30,K,0,-90],
  ['854.2',360,633,30,R,0,16],
  // axis titles
  ['Intensity (a.u.)',24,195,31,K,1,-90], ['Intensity (a.u.)',24,562,31,K,1,-90],
  ['Binding Energy (eV)',227,784,31,K,1,0], ['Binding Energy (eV)',591,784,31,K,1,0], ['Binding Energy (eV)',952,784,31,K,1,0]
];

notes.forEach(n => {
  const [t, x, y, size, color, bold, rot] = n;
  const d = document.createElement('div');
  d.className = 't';
  d.textContent = t;
  d.style.fontSize = size + 'px';
  d.style.color = color;
  d.style.fontWeight = bold ? 'bold' : 'normal';
  d.style.left = x + 'px';
  if (rot === undefined) {
    d.style.top = (y - 0.8375 * size) + 'px';
  } else {
    d.style.top = y + 'px';
    d.style.transform = `translate(-50%,-50%) rotate(${rot}deg)`;
  }
  document.body.appendChild(d);
});
</script>
</body>
</html>
